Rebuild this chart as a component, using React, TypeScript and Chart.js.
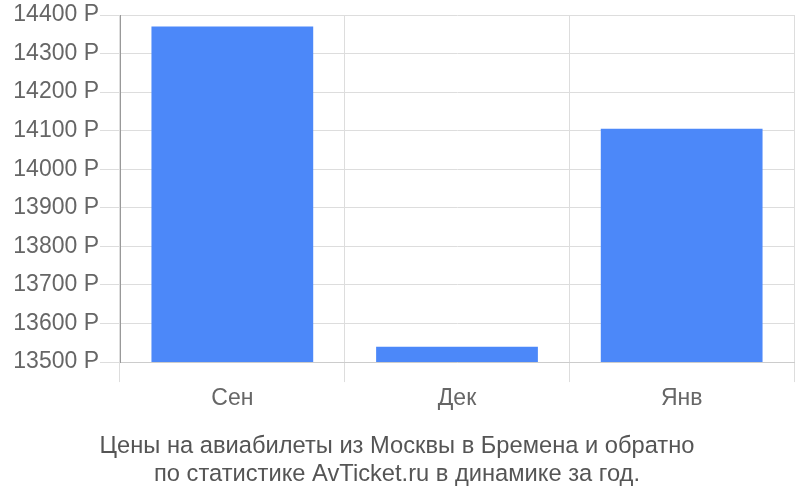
import { useEffect, useRef } from "react";
import Chart from "chart.js/auto";

const months = ["Сен", "Дек", "Янв"];
const prices = [14370, 13540, 14105];
const titleLines = [
  "Цены на авиабилеты из Москвы в Бремена и обратно",
  "по статистике AvTicket.ru в динамике за год.",
];

const FONT = "'Liberation Sans', Arial, sans-serif";

const PriceChart = () => {
  const canvasRef = useRef<HTMLCanvasElement | null>(null);

  useEffect(() => {
    if (!canvasRef.current) return;

    const chart = new Chart(canvasRef.current, {
      type: "bar",
      data: {
        labels: months,
        datasets: [
          {
            data: prices,
            backgroundColor: "#4c88f9",
            borderWidth: 0,
          },
        ],
      },
      options: {
        responsive: false,
        animation: false,
        layout: { padding: { top: 15, right: 6, left: 0, bottom: 0 } },
        plugins: {
          legend: { display: false },
          tooltip: { enabled: false },
          title: {
            display: true,
            position: "bottom",
            text: titleLines,
            color: "#555555",
            font: { family: FONT, size: 23.7, weight: "normal", lineHeight: 1.18 },
            padding: { top: 0, bottom: 12 },
          },
        },
        scales: {
          x: {
            grid: {
              offset: true,
              color: "#dddddd",
              tickLength: 20,
            },
            border: { color: "#cccccc" },
            ticks: {
              color: "#666666",
              font: { family: FONT, size: 23 },
              padding: 3,
            },
            afterFit: (scale: any) => {
              scale.height = 70;
            },
          },
          y: {
            min: 13500,
            max: 14400,
            grid: { color: "#dddddd", tickLength: 20 },
            border: { color: "#999999" },
            ticks: {
              stepSize: 100,
              color: "#666666",
              font: { family: FONT, size: 23 },
              padding: 1,
              callback: (v: any) => v + " Р",
            },
            afterFit: (scale: any) => {
              scale.width = 120;
            },
          },
        },
      },
    });

    return () => {
      chart.destroy();
    };
  }, []);

  return (
    <div style={{ position: "fixed", left: 0, top: 0, width: 800, height: 500, background: "#fff" }}>
      <canvas ref={canvasRef} width={800} height={500} />
    </div>
  );
};

export default PriceChart;
